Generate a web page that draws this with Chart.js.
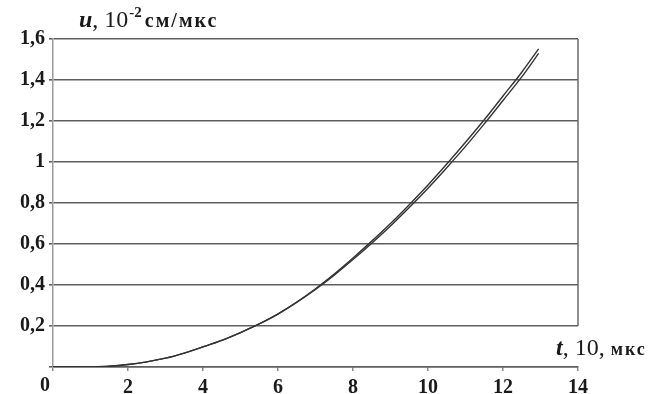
<!DOCTYPE html>
<html>
<head>
<meta charset="utf-8">
<script src="https://cdn.jsdelivr.net/npm/chart.js@4/dist/chart.umd.min.js"></script>
<style>
  html, body { margin: 0; padding: 0; background: #fff; }
  #wrap { width: 653px; height: 394px; position: relative; }
</style>
</head>
<body>
<div id="wrap"><canvas id="c" width="653" height="394"></canvas></div>
<script>
// Time, units of 10 µs
const tValues = [0, 0.5, 1, 1.5, 2, 2.5, 3, 3.5, 4, 4.5, 5, 5.5, 6, 6.5, 7, 7.5, 8, 8.5, 9, 9.5, 10, 10.5, 11, 11.5, 12, 12.5, 12.95];
// Velocity, 10^-2 cm/µs — two nearly coincident curves
const uCurveA = [0, 0, 0.001, 0.004, 0.012, 0.025, 0.043, 0.068, 0.098, 0.13, 0.168, 0.21, 0.258, 0.315, 0.378, 0.448, 0.524, 0.604, 0.688, 0.778, 0.872, 0.972, 1.076, 1.186, 1.3, 1.415, 1.53];
const uCurveB = [0, 0, 0.001, 0.004, 0.012, 0.025, 0.043, 0.068, 0.098, 0.13, 0.168, 0.21, 0.259, 0.317, 0.382, 0.454, 0.532, 0.614, 0.7, 0.792, 0.888, 0.99, 1.096, 1.206, 1.322, 1.438, 1.552];
const yTicks = [0, 0.2, 0.4, 0.6, 0.8, 1, 1.2, 1.4, 1.6];
const xTicks = [0, 2, 4, 6, 8, 10, 12, 14];

const fmt = v => String(Math.round(v * 10) / 10).replace('.', ',');
const serif = "'Liberation Serif', 'DejaVu Serif', serif";
const tickFont = { family: serif, size: 20, weight: 'bold' };

const toPts = arr => tValues.map((t, i) => ({ x: t, y: arr[i] }));

// Right frame (from 0,2 up to 1,6), the origin label and the axis titles
const decor = {
  id: 'decor',
  afterDraw(chart) {
    const { ctx, chartArea, scales } = chart;
    const y = scales.y, xs = scales.x;
    ctx.save();
    ctx.strokeStyle = '#6a6a6a';
    ctx.lineWidth = 1.5;
    ctx.beginPath();
    ctx.moveTo(chartArea.right, y.getPixelForValue(1.6));
    ctx.lineTo(chartArea.right, y.getPixelForValue(0.2));
    ctx.stroke();

    ctx.fillStyle = '#1a1a1a';
    // origin label sits a little left of the corner
    ctx.font = 'bold 20px ' + serif;
    ctx.textAlign = 'center';
    ctx.textBaseline = 'middle';
    ctx.fillText('0', xs.getPixelForValue(0) - 8, chartArea.bottom + 19);

    ctx.textBaseline = 'alphabetic';
    ctx.textAlign = 'left';
    // u, 10^-2 см/мкс
    let x = 79, b = 27;
    ctx.font = 'italic bold 24px ' + serif;
    ctx.fillText('u', x, b); x += ctx.measureText('u').width;
    ctx.font = '24px ' + serif;
    ctx.fillText(', 10', x, b); x += ctx.measureText(', 10').width;
    ctx.font = 'bold 15px ' + serif;
    ctx.fillText('-2', x + 1, b - 10); x += ctx.measureText('-2').width + 4;
    ctx.font = 'bold 20px ' + serif;
    ctx.letterSpacing = '2px';
    ctx.fillText('см/мкс', x, b);
    ctx.letterSpacing = '0px';

    // t, 10, мкс
    x = 556; b = 355;
    ctx.font = 'italic bold 24px ' + serif;
    ctx.fillText('t', x, b); x += ctx.measureText('t').width;
    ctx.font = '24px ' + serif;
    ctx.fillText(', 10, ', x, b); x += ctx.measureText(', 10, ').width;
    ctx.font = 'bold 18px ' + serif;
    ctx.letterSpacing = '2px';
    ctx.fillText('мкс', x, b);
    ctx.restore();
  }
};

new Chart(document.getElementById('c'), {
  type: 'line',
  data: {
    datasets: [
      { data: toPts(uCurveA), borderColor: '#333', borderWidth: 1.4, pointRadius: 0, cubicInterpolationMode: 'monotone', fill: false },
      { data: toPts(uCurveB), borderColor: '#333', borderWidth: 1.4, pointRadius: 0, cubicInterpolationMode: 'monotone', fill: false }
    ]
  },
  options: {
    responsive: false,
    animation: false,
    layout: { padding: { top: 39, right: 75, left: 0, bottom: 0 } },
    plugins: { legend: { display: false }, tooltip: { enabled: false } },
    scales: {
      x: {
        type: 'linear', min: 0, max: 14,
        afterBuildTicks: s => { s.ticks = xTicks.map(v => ({ value: v })); },
        afterFit: s => { s.height = 27; },
        border: { color: '#5e5e5e', width: 1.6 },
        grid: { drawOnChartArea: false, drawTicks: true, tickLength: 4, color: '#8a8a8a', lineWidth: 1.5 },
        ticks: {
          padding: 5, maxRotation: 0, autoSkip: false,
          color: '#1a1a1a',
          font: tickFont,
          callback: v => (v === 0 ? '' : fmt(v))
        }
      },
      y: {
        type: 'linear', min: 0, max: 1.6,
        afterBuildTicks: s => { s.ticks = yTicks.map(v => ({ value: v })); },
        afterFit: s => { s.width = 53; },
        border: { color: '#9a9a9a', width: 1.5 },
        grid: { color: '#5e5e5e', lineWidth: 1.6, drawTicks: true, tickLength: 4 },
        ticks: {
          padding: 4, autoSkip: false,
          color: '#1a1a1a',
          font: tickFont,
          callback: v => (v === 0 ? '' : fmt(v))
        }
      }
    }
  },
  plugins: [decor]
});
</script>
</body>
</html>
